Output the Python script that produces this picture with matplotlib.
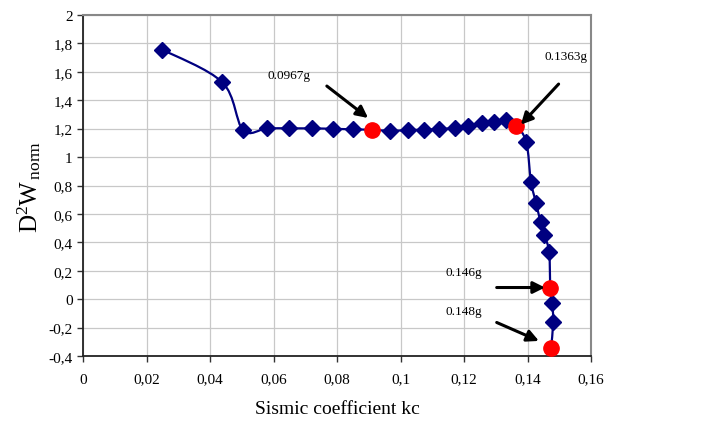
import numpy as np
import matplotlib
matplotlib.use("Agg")
import matplotlib.pyplot as plt
from matplotlib.path import Path
from matplotlib.patches import PathPatch
from matplotlib.ticker import FuncFormatter

plt.rcParams['font.family'] = ['Liberation Serif', 'DejaVu Serif']
plt.rcParams['mathtext.fontset'] = 'custom'
plt.rcParams['mathtext.rm'] = 'Liberation Serif'
plt.rcParams['mathtext.it'] = 'Liberation Serif:italic'

# data (in order along the curve)
kc = [0.025, 0.0439, 0.0504, 0.0579, 0.0650, 0.0721, 0.0788, 0.0851, 0.0910,
      0.0968, 0.1023, 0.1073, 0.1122, 0.1171, 0.1212, 0.1256, 0.1294, 0.1331,
      0.1363, 0.1396, 0.1411, 0.1427, 0.1441, 0.1453, 0.1468, 0.1472, 0.1478,
      0.1481, 0.1474]
d2w = [1.756, 1.526, 1.19, 1.202, 1.202, 1.202, 1.199, 1.195, 1.192,
       1.185, 1.19, 1.193, 1.197, 1.206, 1.22, 1.237, 1.249, 1.258,
       1.22, 1.108, 0.826, 0.676, 0.544, 0.451, 0.333, 0.08, -0.028,
       -0.164, -0.345]
critical_idx = [8, 18, 25, 28]
labels = ['0.0967g', '0.1363g', '0.146g', '0.148g']
label_pos = [(0.0580, 1.575), (0.1452, 1.71), (0.1143, 0.19), (0.1143, -0.085)]
arrow_start = [(0.0768, 1.50), (0.1498, 1.514), (0.1303, 0.082), (0.1303, -0.164)]
arrow_end = [(0.0898, 1.275), (0.1379, 1.228), (0.1455, 0.082), (0.1436, -0.294)]

xticks = np.arange(0, 0.161, 0.02)
yticks = np.arange(-0.4, 2.01, 0.2)

fig = plt.figure(figsize=(7.15, 4.27), dpi=100)
ax = fig.add_axes([83/715, 1-357/427, (591-83)/715, (357-16)/427])
ax.set_xlim(0, 0.16)
ax.set_ylim(-0.4, 2.0)

# smoothed line (Excel-like Bezier) computed in normalized space
X = np.array(kc); Y = np.array(d2w)
sx, sy = 508/0.16, 341/2.4
P = np.column_stack([X*sx, Y*sy])
n = len(P)
verts = [P[0]]
codes = [Path.MOVETO]
for i in range(n-1):
    p0 = P[i-1] if i > 0 else P[i]
    p1 = P[i]; p2 = P[i+1]
    p3 = P[i+2] if i+2 < n else P[i+1]
    c1 = p1 + (p2 - p0)/6
    c2 = p2 - (p3 - p1)/6
    verts += [c1, c2, p2]
    codes += [Path.CURVE4]*3
verts = np.array(verts)
verts[:, 0] /= sx; verts[:, 1] /= sy
ax.add_patch(PathPatch(Path(verts, codes), fill=False, edgecolor='#000080', lw=1.6, zorder=3))

dx = [kc[i] for i in range(n) if i not in critical_idx]
dy = [d2w[i] for i in range(n) if i not in critical_idx]
ax.plot(dx, dy, ls='none', marker='D', color='#000080', markersize=8.5, zorder=4)
rx = [kc[i] for i in critical_idx]
ry = [d2w[i] for i in critical_idx]
ax.plot(rx, ry, ls='none', marker='o', color='#ff0000', markersize=11, zorder=5)

for lab, pos, s, e in zip(labels, label_pos, arrow_start, arrow_end):
    ax.text(pos[0], pos[1], lab, fontsize=9.5, ha='left', va='center', zorder=6)
    ax.annotate('', xy=e, xytext=s,
                arrowprops=dict(arrowstyle='-|>,head_length=0.7,head_width=0.35',
                                color='black', lw=2.2, shrinkA=0, shrinkB=0), zorder=6)

ax.set_xticks(xticks)
ax.set_yticks(yticks)
fmt = lambda v, p: ('%g' % round(v, 4)).replace('.', ',')
ax.xaxis.set_major_formatter(FuncFormatter(fmt))
ax.yaxis.set_major_formatter(FuncFormatter(fmt))
ax.tick_params(axis='both', labelsize=11, direction='out', length=4, width=1, color='#333333')
ax.tick_params(axis='x', pad=8)
ax.grid(True, color='#c8c8c8', lw=0.9)
ax.set_axisbelow(True)
for s in ['left', 'bottom']:
    ax.spines[s].set_color('#222222'); ax.spines[s].set_linewidth(1.3)
for s in ['top', 'right']:
    ax.spines[s].set_color('#888888'); ax.spines[s].set_linewidth(1.5)

ax.set_xlabel('Sismic coefficient kc', fontsize=14, labelpad=10)
ax.set_ylabel(r'D$^{2}$W$_{\,\mathrm{norm}}$', fontsize=18, labelpad=4)

fig.savefig('out.png', dpi=100)
